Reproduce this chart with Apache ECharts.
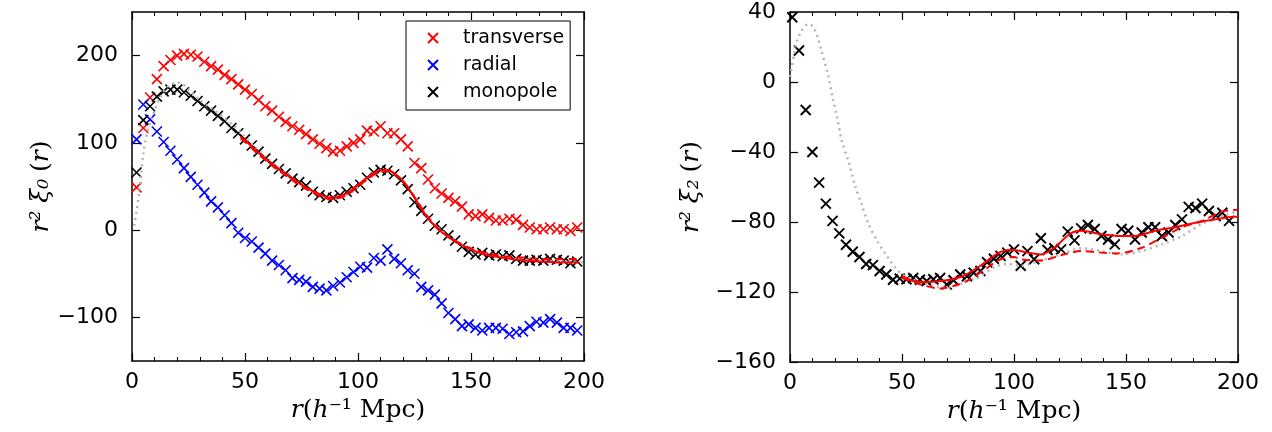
<!DOCTYPE html>
<html>
<head>
<meta charset="utf-8">
<script src="https://cdn.jsdelivr.net/npm/echarts@6/dist/echarts.min.js"></script>
<style>
  html, body { margin: 0; background: #fff; }
  #chart { width: 1272px; height: 432px; }
</style>
</head>
<body>
<div id="chart"></div>
<script>
// left panel: monopole / wedges, r in h^-1 Mpc
const rLeft = [2,5,8,11,14,17,20,23,26,29,32,35,38,41,44,47,50,53,56,59,62,65,68,71,74,77,80,83,86,89,92,95,98,101,104,107,110,113,116,119,122,125,128,131,134,137,140,143,146,149,152,155,158,161,164,167,170,173,176,179,182,185,188,191,194,197];
const transverse = [49,117,152,173,188,195,200,202,201,199,193,188,184,178,173,167,161,156,149,142,137,130,124,119,115,110,104,99,94,90,91,96,100,104,114,113,119,111,111,104,96,77,71,58,48,42,37,33,27,18,16,18,14,11,11,13,12,6,3,1,1,3,1,1,-1,3];
const radial = [104,144,127,113,101,91,81,71,61,52,43,33,26,17,8,-3,-9,-13,-20,-27,-35,-40,-46,-55,-57,-59,-65,-67,-69,-64,-60,-54,-48,-42,-43,-32,-35,-22,-33,-38,-46,-50,-65,-69,-74,-84,-95,-102,-110,-108,-112,-115,-112,-112,-113,-119,-117,-116,-110,-105,-106,-102,-106,-112,-112,-115];
const monopole = [66,126,142,153,159,161,161,158,154,148,142,137,131,125,117,111,104,97,90,82,76,70,65,59,55,51,44,40,38,37,40,44,48,52,60,66,69,68,64,57,47,32,22,13,5,1,-6,-12,-19,-25,-28,-26,-29,-28,-30,-29,-33,-35,-35,-34,-35,-33,-34,-35,-38,-36];

const rTheoryL = [1,2,3,4,5,6,7,8,9,10,12,14,16,18,20,22,24,26,28,30,35,40,45,50,55,60,65,70,75,80,85,90,95,100,105,110,115,120,125,130,135,140,145,150,160,170,180,190,200];
const theoryL = [5,22,40,62,88,103,114,122,130,137,150,159,165,168,169,168,164,159,154,149,140,130,120,107,94,82,71,61,52,44,38,36,40,49,60,67,66,56,38,19,4,-7,-16,-22,-29,-33,-35,-36,-37];

const rFitL = [48,50,55,60,65,70,75,80,85,88,90,95,100,105,110,113,115,120,125,130,135,140,145,150,155,160,165,170,175,180,185,190,195,198];
const fitL = [107,103,91,80,70,61,52,45,39,37,37.5,42,52,62,69,69,67,56,37,17,2,-8,-16,-22,-27,-30,-32,-34,-35,-36,-36.5,-37,-37,-37];
const fitDashL = [105,101,89,78,68,59,50,43,37,35,35.5,40,50,60,67,67.5,66,56,38,18,3,-7,-15,-21,-25,-28,-30,-31,-32,-33,-33,-33,-33,-33];

// right panel: quadrupole
const rRight = [1,4,7,10,13,16,19,22,25,28,31,34,37,40,43,46,49,52,55,58,61,64,67,70,73,76,79,82,85,88,91,94,97,100,103,106,109,112,115,118,121,124,127,130,133,136,139,142,145,148,151,154,157,160,163,166,169,172,175,178,181,184,187,190,193,196];
const quadrupole = [37,18,-16,-40,-57.5,-69.5,-79.4,-86.5,-93,-97,-100,-104,-104.6,-108,-110,-113,-112.4,-112.7,-112,-113,-113.7,-112.7,-112,-115.6,-113.3,-110,-111,-109,-108,-103,-101,-99.4,-97.5,-95.6,-105,-96.6,-101.3,-89.3,-96,-95,-95.6,-85.5,-90.5,-83.6,-81.7,-84,-88,-90,-92.8,-84,-85,-90,-86,-83,-83,-88,-86,-81.7,-78.5,-71.4,-72,-69.5,-73.7,-76.6,-74.7,-79.4];

const rTheoryR = [0,2,3,5,8,10,12,14,17,19,21,23,26,29,32,35,39,43,47,50,55,61,67,73,79,85,91,97,103,112,121,130,139,148,157,166,175,184,193,200];
const theoryR = [3,17,23,29,33,32,27,18,4,-9,-20,-33,-45,-59,-70,-81,-91,-99,-106,-110,-113,-115.6,-117,-116.6,-114,-111,-106,-104,-105,-102,-98.5,-95,-96.6,-98.5,-96.6,-92.7,-88,-81,-76.6,-74];

const rFitR = [50,55,62,70,77,85,92,97,100,106,112,118,125,130,139,148,154,163,172,181,190,198,200];
const fitR = [-111,-113.7,-114.3,-113.3,-111,-105,-98.5,-96,-96,-97.5,-98.5,-94.7,-86.7,-85,-87,-88,-88,-85,-83,-80.4,-78.5,-77,-77];
const rDashR = [50,58,67,73,79,86,94,100,103,112,121,130,139,146,157,166,175,184,193,200];
const dashR = [-112,-115.6,-118,-116.6,-113.7,-108,-101.3,-100,-101.3,-102,-99,-96.6,-97.5,-98,-94.7,-89,-83,-79.4,-74,-73];

const leftTicks = [-100, 0, 100, 200];

const pairs = (xs, ys) => xs.map((x, i) => [x, ys[i]]);
const cross = 'path://M0,0L10,10M0,10L10,0';
const font = 'DejaVu Sans';
const minus = v => String(v).replace('-', '\u2212');

// math-ish titles: italic symbols, upright units/brackets
const mathRich = {
  i: { fontFamily: 'DejaVu Serif', fontStyle: 'italic', fontSize: 25, color: '#000' },
  n: { fontFamily: 'DejaVu Serif', fontSize: 25, color: '#000' }
};
const xTitle = '{i|r}{n|(}{i|h}{n|⁻¹ Mpc)}';
const yTitle0 = '{i|r² ξ₀} {n|(}{i|r}{n|)}';
const yTitle2 = '{i|r² ξ₂} {n|(}{i|r}{n|)}';

function xAxes(grid) {
  const base = {
    type: 'value', gridIndex: grid, min: 0, max: 200, interval: 50,
    axisLine: { onZero: false, lineStyle: { color: '#000', width: 1.5 } },
    axisTick: { inside: true, length: 8, lineStyle: { color: '#000', width: 1.2 } },
    minorTick: { show: true, splitNumber: 5, length: 4, lineStyle: { color: '#000', width: 1 } },
    splitLine: { show: false }
  };
  return [
    Object.assign({}, base, {
      position: 'bottom',
      axisLabel: { fontSize: 22, color: '#000', fontFamily: font, margin: 10 },
      name: xTitle, nameLocation: 'middle', nameGap: 36,
      nameTextStyle: { fontSize: 25, color: '#000', rich: mathRich }
    }),
    Object.assign({}, base, { position: 'top', axisLabel: { show: false } })
  ];
}

function yAxes(grid, min, max, extra, title, gap) {
  const base = {
    type: 'value', gridIndex: grid, min: min, max: max,
    axisLine: { onZero: false, lineStyle: { color: '#000', width: 1.5 } },
    axisTick: Object.assign({ inside: true, length: 8, lineStyle: { color: '#000', width: 1.2 } }, extra.tick),
    splitLine: { show: false }
  };
  if (extra.interval) base.interval = extra.interval;
  return [
    Object.assign({}, base, {
      position: 'left',
      axisLabel: Object.assign({ fontSize: 22, color: '#000', fontFamily: font, margin: 14, formatter: minus }, extra.label),
      name: title, nameLocation: 'middle', nameRotate: 90, nameGap: gap,
      nameTextStyle: { fontSize: 25, color: '#000', rich: mathRich }
    }),
    Object.assign({}, base, { position: 'right', axisLabel: { show: false } })
  ];
}

function marks(name, xi, yi, xs, ys, color, size, bw) {
  return {
    name: name, type: 'scatter', xAxisIndex: xi, yAxisIndex: yi,
    data: pairs(xs, ys), symbol: cross, symbolSize: size,
    itemStyle: { color: color, borderColor: color, borderWidth: bw, opacity: 1 }
  };
}

function curve(xi, yi, xs, ys, color, width, type) {
  return {
    type: 'line', xAxisIndex: xi, yAxisIndex: yi, data: pairs(xs, ys),
    showSymbol: false, smooth: 0.3, silent: true,
    lineStyle: { color: color, width: width, type: type || 'solid' }
  };
}

const chart = echarts.init(document.getElementById('chart'));

const option = {
  animation: false,
  backgroundColor: '#fff',
  grid: [
    { left: 132, top: 12, width: 452, height: 349 },
    { left: 790, top: 12, width: 448, height: 350 }
  ],
  legend: {
    left: 406, top: 21, orient: 'vertical',
    data: ['transverse', 'radial', 'monopole'],
    borderColor: '#000', borderWidth: 1, borderRadius: 0,
    padding: [6, 6, 7, 21], itemGap: 5, itemWidth: 10, itemHeight: 10,
    textStyle: { fontSize: 19, color: '#000', fontFamily: font, padding: [0, 0, 0, 20], lineHeight: 22 }
  },
  xAxis: xAxes(0).concat(xAxes(1)),
  yAxis: yAxes(0, -150, 250, { tick: { customValues: leftTicks }, label: { customValues: leftTicks } }, yTitle0, 70)
    .concat(yAxes(1, -160, 40, { interval: 40, tick: {}, label: {} }, yTitle2, 86)),
  series: [
    curve(0, 0, rTheoryL, theoryL, '#b4b4b4', 2.5, [2, 4]),
    marks('transverse', 0, 0, rLeft, transverse, '#ff0000', 10, 1.6),
    marks('radial', 0, 0, rLeft, radial, '#0000ff', 10, 1.6),
    marks('monopole', 0, 0, rLeft, monopole, '#000000', 10, 1.6),
    curve(0, 0, rFitL, fitDashL, '#ff0000', 2, [8, 5]),
    curve(0, 0, rFitL, fitL, '#ff0000', 2),
    // right panel
    curve(2, 2, rTheoryR, theoryR, '#b4b4b4', 2.5, [2, 4]),
    marks('', 2, 2, rRight, quadrupole, '#000000', 10, 1.9),
    curve(2, 2, rDashR, dashR, '#ff0000', 2, [8, 5]),
    curve(2, 2, rFitR, fitR, '#ff0000', 2)
  ]
};

chart.setOption(option);
</script>
</body>
</html>
